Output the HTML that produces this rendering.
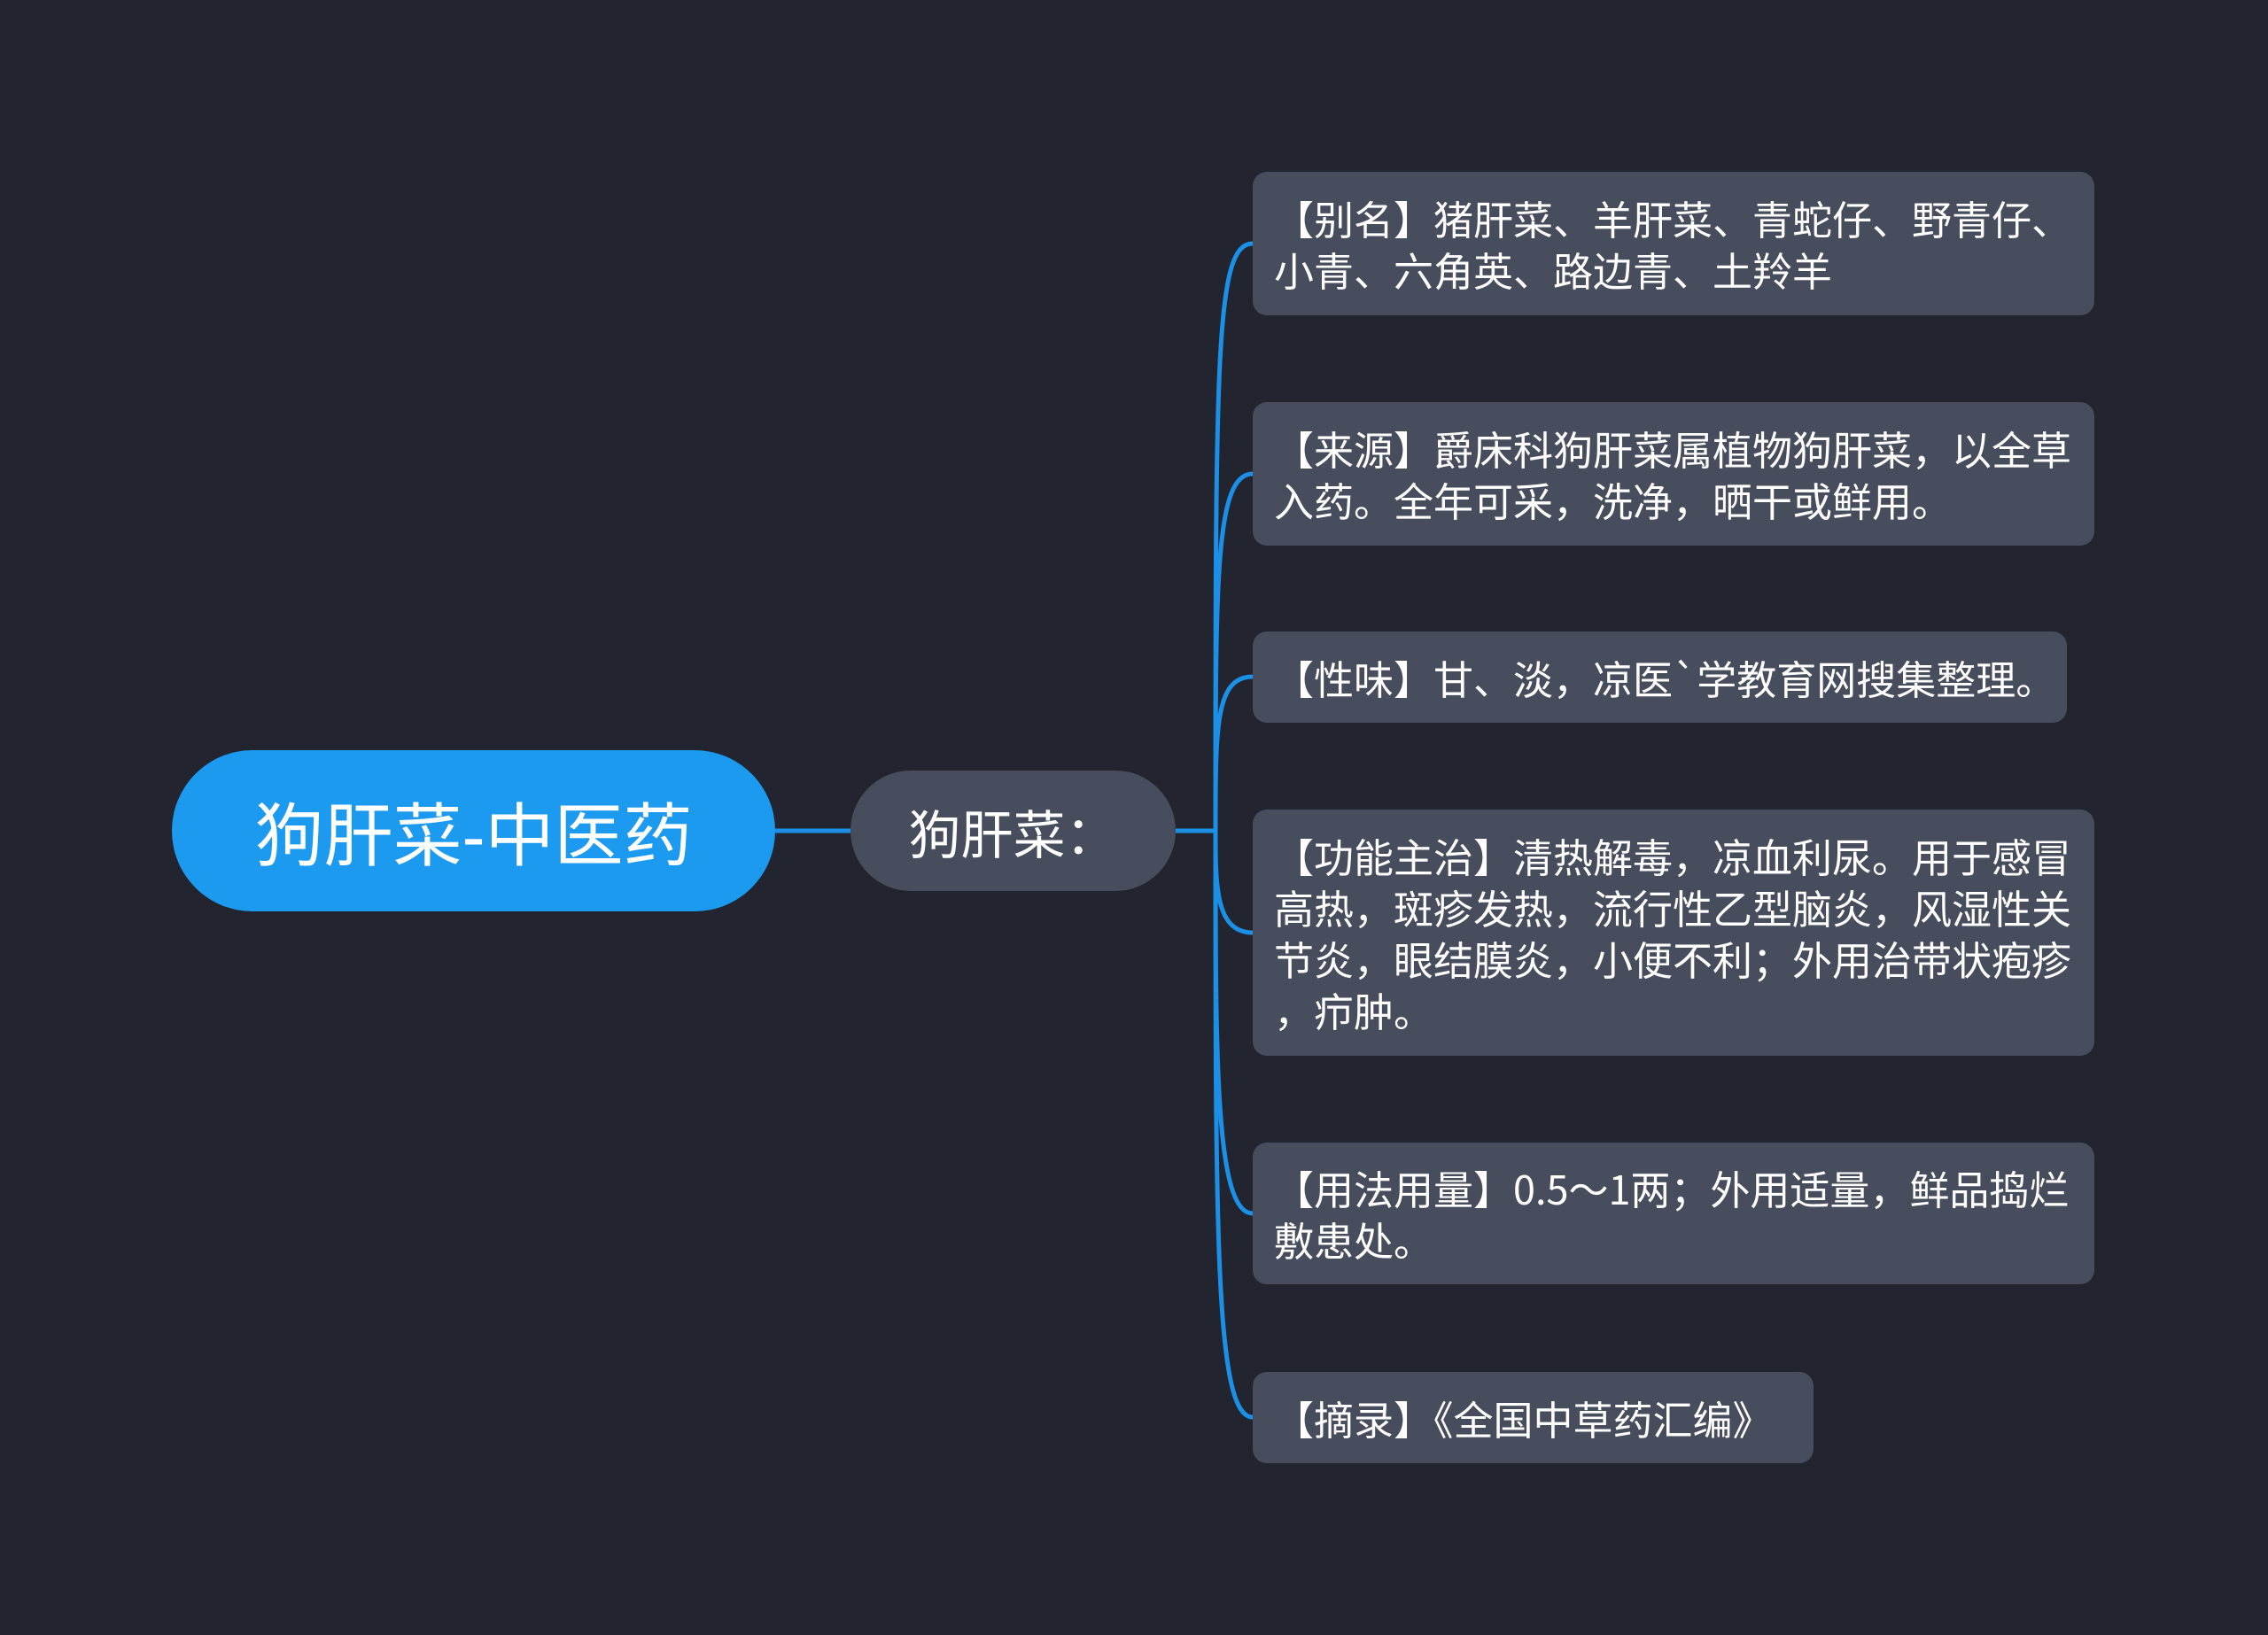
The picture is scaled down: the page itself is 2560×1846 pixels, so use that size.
<!DOCTYPE html>
<html><head><meta charset="utf-8"><style>
html,body{margin:0;padding:0;}
body{width:2560px;height:1846px;background:#22252f;position:relative;overflow:hidden;font-family:"Liberation Sans","Noto Sans CJK SC",sans-serif;color:#fff;}
.root{position:absolute;left:194px;top:847px;width:681px;height:182px;border-radius:91px;background:#1c9af0;font-size:78px;display:flex;align-items:center;justify-content:center;}
.mid{position:absolute;left:960px;top:870px;width:367px;height:136px;border-radius:68px;background:#474d5c;font-size:59px;display:flex;align-items:center;justify-content:center;}
.leaf{position:absolute;left:1414px;background:#474d5c;border-radius:16px;font-size:45px;line-height:58px;padding:0 0 0 24px;box-sizing:border-box;display:flex;align-items:center;white-space:nowrap;font-family:"Noto Sans CJK SC",sans-serif;}
svg{position:absolute;left:0;top:0;}
</style></head><body>
<svg width="2560" height="1846">
<g stroke="#1c8fe6" stroke-width="5" fill="none">
<path d="M875 938 H960"/>
<path d="M1327 938 H1372"/>
<path d="M1372 938 C1372 400,1372 275,1414 275"/>
<path d="M1372 938 C1372 650,1372 535,1414 535"/>
<path d="M1372 938 C1372 820,1372 764,1414 764"/>
<path d="M1372 938 C1372 1000,1372 1053,1414 1053"/>
<path d="M1372 938 C1372 1200,1372 1370,1414 1370"/>
<path d="M1372 938 C1372 1400,1372 1600,1414 1600"/>
</g></svg>
<div class="root">狗肝菜-中医药</div>
<div class="mid">狗肝菜：</div>
<div class="leaf" style="top:194px;width:950px;height:162px;">【别名】猪肝菜、羊肝菜、青蛇仔、野青仔、<br>小青、六角英、路边青、土羚羊</div>
<div class="leaf" style="top:454px;width:950px;height:162px;">【来源】爵床科狗肝菜属植物狗肝菜，以全草<br>入药。全年可采，洗净，晒干或鲜用。</div>
<div class="leaf" style="top:713px;width:919px;height:103px;">【性味】甘、淡，凉医`学教育网搜集整理。</div>
<div class="leaf" style="top:914px;width:950px;height:278px;">【功能主治】清热解毒，凉血利尿。用于感冒<br>高热，斑疹发热，流行性乙型脑炎，风湿性关<br>节炎，眼结膜炎，小便不利；外用治带状疱疹<br>，疖肿。</div>
<div class="leaf" style="top:1290px;width:950px;height:160px;">【用法用量】0.5～1两；外用适量，鲜品捣烂<br>敷患处。</div>
<div class="leaf" style="top:1549px;width:633px;height:103px;">【摘录】《全国中草药汇编》</div>
</body></html>
